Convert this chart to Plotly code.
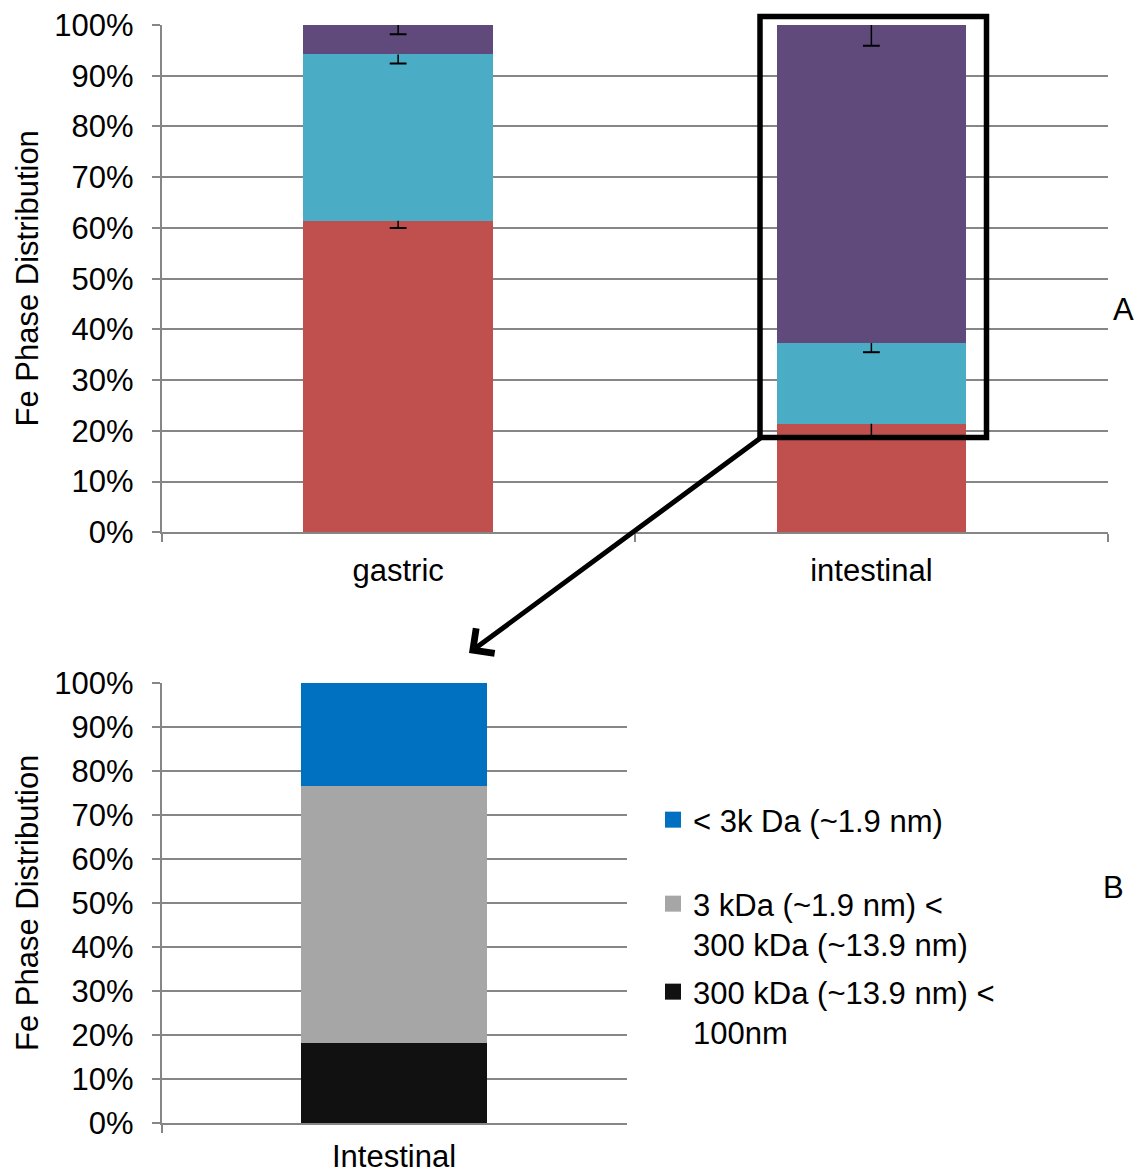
import plotly.graph_objects as go

W, H = 1142, 1176
FONT = "Liberation Sans, Arial, sans-serif"
FS = 31
AXIS_GRAY = "#868686"

# ---- panel A: Fe phase distribution per digestion stage (%)
stages = ["gastric", "intestinal"]
phase_bottom = [61.4, 21.4]
phase_middle = [32.8, 15.9]
phase_top = [5.8, 62.7]
# negative-direction error bars, measured from each segment's upper edge
phase_bottom_err = [1.4, 2.5]
phase_middle_err = [1.8, 1.8]
phase_top_err = [1.8, 4.1]
phase_colors = ["#C0504D", "#4BACC6", "#604A7B"]

# ---- panel B: size fractionation of the intestinal phase (%)
fraction_stage = ["Intestinal"]
fraction_large = [18.2]
fraction_medium = [58.3]
fraction_small = [23.5]
fraction_names = [
    "&lt; 3k Da (~1.9 nm)",
    "3 kDa (~1.9 nm) &lt;<br>300 kDa (~13.9 nm)",
    "300 kDa (~13.9 nm) &lt;<br>100nm",
]
fraction_colors = ["#0070C0", "#A6A6A6", "#111111"]

pct_ticks = list(range(0, 101, 10))
pct_labels = [f"{v}%" for v in pct_ticks]

fig = go.Figure()

# stacked bars, panel A
cum = [0.0] * len(stages)
for name, vals, errs, col in [
    ("bottom", phase_bottom, phase_bottom_err, phase_colors[0]),
    ("middle", phase_middle, phase_middle_err, phase_colors[1]),
    ("top", phase_top, phase_top_err, phase_colors[2]),
]:
    fig.add_trace(go.Bar(
        x=stages, y=vals, name=name, marker=dict(color=col, line=dict(width=0)),
        width=0.4, xaxis="x", yaxis="y", showlegend=False, hoverinfo="skip",
    ))
    cum = [c + v for c, v in zip(cum, vals)]
    # error bar stems (downward only) and their caps
    ex, ey = [], []
    for s, top, e in zip(stages, cum, errs):
        ex += [s, s, None]
        ey += [top, top - e, None]
    fig.add_trace(go.Scatter(
        x=ex, y=ey, mode="lines", line=dict(color="black", width=1.5),
        xaxis="x", yaxis="y", showlegend=False, hoverinfo="skip",
    ))
    fig.add_trace(go.Scatter(
        x=stages, y=[top - e for top, e in zip(cum, errs)], mode="markers",
        marker=dict(symbol="line-ew", size=12, line=dict(color="black", width=2)),
        xaxis="x", yaxis="y", showlegend=False, hoverinfo="skip",
    ))

# stacked bars, panel B (bottom to top)
for i, vals in enumerate([fraction_large, fraction_medium, fraction_small]):
    idx = 2 - i
    fig.add_trace(go.Bar(
        x=fraction_stage, y=vals, name=fraction_names[idx],
        marker=dict(color=fraction_colors[idx], line=dict(width=0)),
        width=0.4, xaxis="x2", yaxis="y2", showlegend=False, hoverinfo="skip",
    ))

# legend entries for panel B, each in its own legend box
legend_ids = ["legend", "legend2", "legend3"]
for name, col, lid in zip(fraction_names, fraction_colors, legend_ids):
    fig.add_trace(go.Scatter(
        x=[None], y=[None], mode="markers", name=name,
        marker=dict(symbol="square", size=16, color=col),
        xaxis="x2", yaxis="y2", legend=lid, showlegend=True,
    ))

axis_common = dict(
    showline=True, linecolor=AXIS_GRAY, linewidth=1.5,
    ticks="outside", ticklen=8, tickwidth=1.5, tickcolor=AXIS_GRAY,
    tickfont=dict(family=FONT, size=FS, color="black"),
    zeroline=False, automargin=False,
)
xcat = dict(axis_common, type="category", tickson="boundaries", showgrid=False,
            ticklabelstandoff=10)
ypct = dict(axis_common, range=[0, 100], tickmode="array", tickvals=pct_ticks,
            ticktext=pct_labels, showgrid=True, gridcolor=AXIS_GRAY, gridwidth=1.5,
            ticklabelstandoff=12)

top_dom_y = [1 - 532.3 / H, 1 - 25 / H]
bot_dom_y = [1 - 1123 / H, 1 - 682.7 / H]

legend_common = dict(
    font=dict(family=FONT, size=FS, color="black"),
    bgcolor="rgba(0,0,0,0)", xanchor="left", yanchor="top",
    valign="top", itemclick=False, itemdoubleclick=False,
)

fig.update_layout(
    width=W, height=H, margin=dict(l=0, r=0, t=0, b=0, autoexpand=False),
    paper_bgcolor="white", plot_bgcolor="white",
    barmode="stack",
    font=dict(family=FONT, size=FS, color="black"),
    xaxis=dict(xcat, domain=[161.5 / W, 1108 / W], anchor="y", range=[-0.5, 1.5]),
    yaxis=dict(ypct, domain=top_dom_y, anchor="x"),
    xaxis2=dict(xcat, domain=[161.5 / W, 626.5 / W], anchor="y2", range=[-0.5, 0.5],
                ticklabelstandoff=5),
    yaxis2=dict(ypct, domain=bot_dom_y, anchor="x2"),
    legend=dict(legend_common, x=653 / W, y=1 - 793 / H),
    legend2=dict(legend_common, x=653 / W, y=1 - 877 / H),
    legend3=dict(legend_common, x=653 / W, y=1 - 965 / H),
    showlegend=True,
)

annotations = [
    dict(text="Fe Phase Distribution", x=27 / W, y=1 - 278.5 / H, textangle=-90),
    dict(text="Fe Phase Distribution", x=27 / W, y=1 - 903 / H, textangle=-90),
    dict(text="A", x=1123 / W, y=1 - 309 / H),
    dict(text="B", x=1113 / W, y=1 - 887 / H),
]
for a in annotations:
    fig.add_annotation(
        xref="paper", yref="paper", showarrow=False, xanchor="center", yanchor="middle",
        font=dict(family=FONT, size=FS, color="black"), **a,
    )

# zoom arrow from the highlighted intestinal region down to panel B
fig.add_annotation(
    xref="paper", yref="paper", x=469 / W, y=1 - 653 / H,
    axref="pixel", ayref="pixel", ax=293, ay=-216,
    text="", showarrow=True, arrowhead=4, arrowsize=1.2, arrowwidth=5,
    arrowcolor="black", standoff=0, startstandoff=0,
)

# highlight box around the intestinal upper fractions
fig.add_shape(
    type="rect", xref="paper", yref="paper",
    x0=760 / W, x1=986.5 / W, y0=1 - 437.5 / H, y1=1 - 16.5 / H,
    line=dict(color="black", width=5.5), fillcolor="rgba(0,0,0,0)",
)

fig.write_html("out.html")
